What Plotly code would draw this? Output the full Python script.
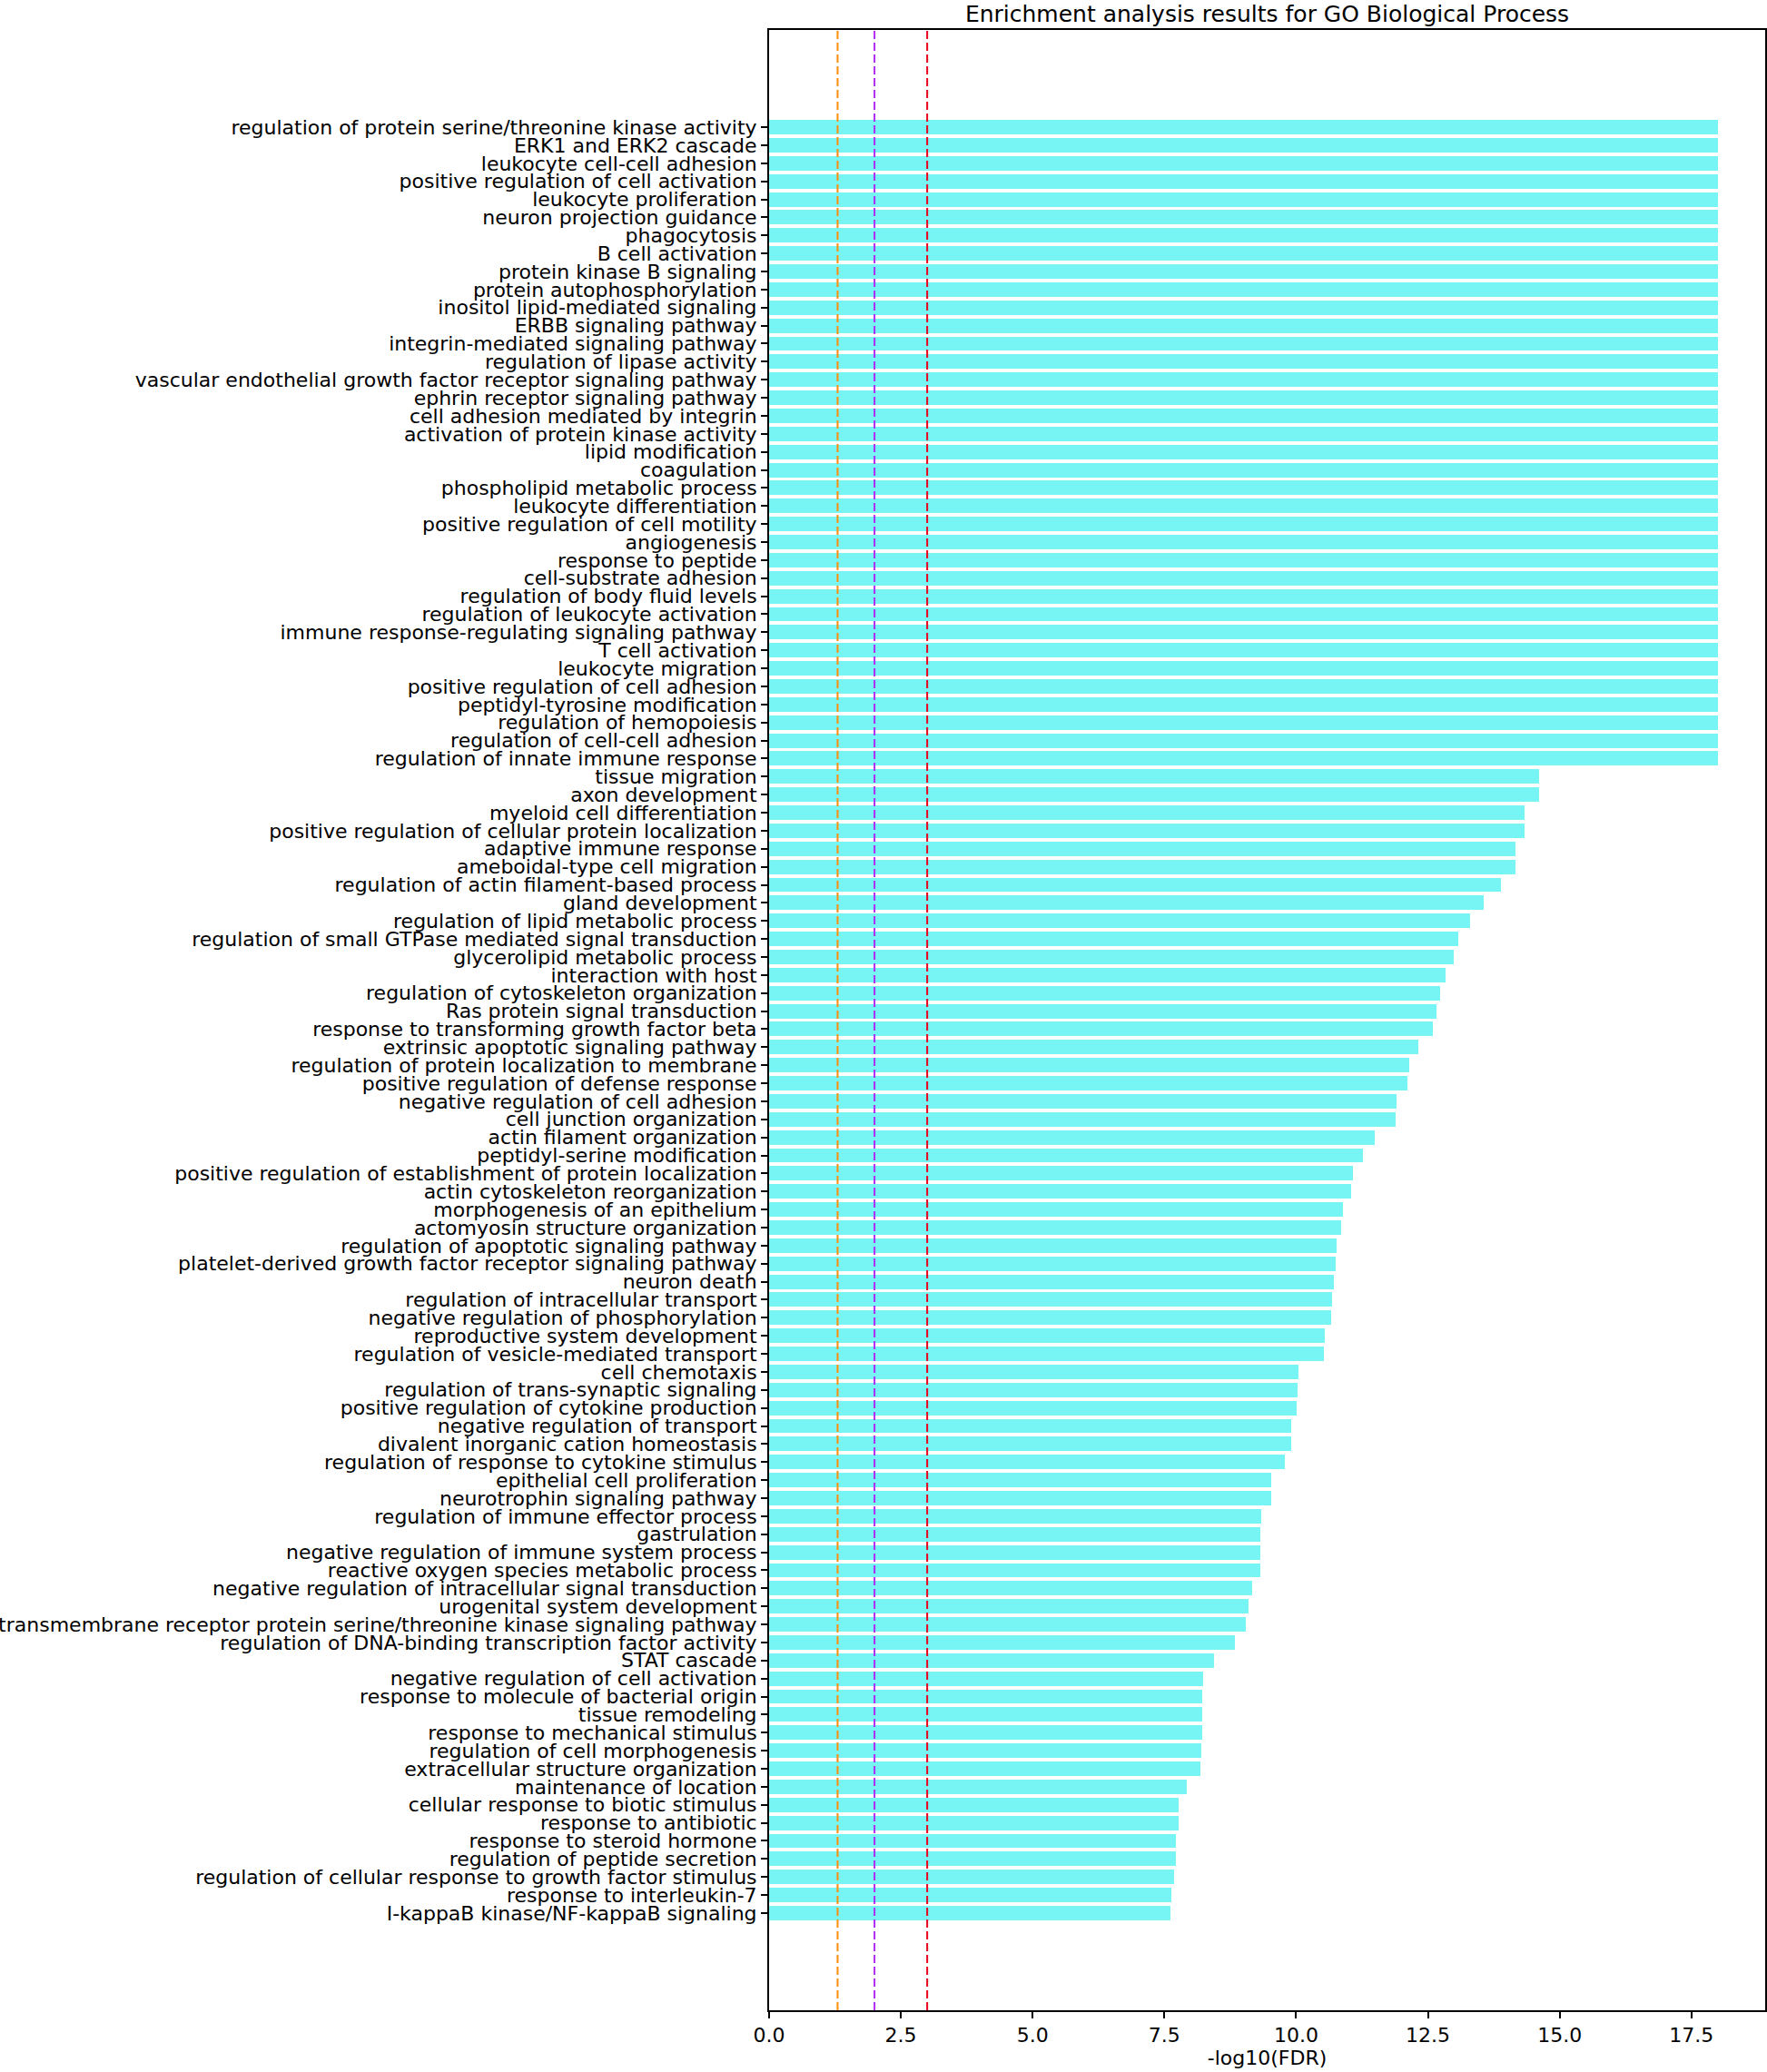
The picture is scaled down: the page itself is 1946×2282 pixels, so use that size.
import plotly.graph_objects as go

categories = [
    "regulation of protein serine/threonine kinase activity",
    "ERK1 and ERK2 cascade",
    "leukocyte cell-cell adhesion",
    "positive regulation of cell activation",
    "leukocyte proliferation",
    "neuron projection guidance",
    "phagocytosis",
    "B cell activation",
    "protein kinase B signaling",
    "protein autophosphorylation",
    "inositol lipid-mediated signaling",
    "ERBB signaling pathway",
    "integrin-mediated signaling pathway",
    "regulation of lipase activity",
    "vascular endothelial growth factor receptor signaling pathway",
    "ephrin receptor signaling pathway",
    "cell adhesion mediated by integrin",
    "activation of protein kinase activity",
    "lipid modification",
    "coagulation",
    "phospholipid metabolic process",
    "leukocyte differentiation",
    "positive regulation of cell motility",
    "angiogenesis",
    "response to peptide",
    "cell-substrate adhesion",
    "regulation of body fluid levels",
    "regulation of leukocyte activation",
    "immune response-regulating signaling pathway",
    "T cell activation",
    "leukocyte migration",
    "positive regulation of cell adhesion",
    "peptidyl-tyrosine modification",
    "regulation of hemopoiesis",
    "regulation of cell-cell adhesion",
    "regulation of innate immune response",
    "tissue migration",
    "axon development",
    "myeloid cell differentiation",
    "positive regulation of cellular protein localization",
    "adaptive immune response",
    "ameboidal-type cell migration",
    "regulation of actin filament-based process",
    "gland development",
    "regulation of lipid metabolic process",
    "regulation of small GTPase mediated signal transduction",
    "glycerolipid metabolic process",
    "interaction with host",
    "regulation of cytoskeleton organization",
    "Ras protein signal transduction",
    "response to transforming growth factor beta",
    "extrinsic apoptotic signaling pathway",
    "regulation of protein localization to membrane",
    "positive regulation of defense response",
    "negative regulation of cell adhesion",
    "cell junction organization",
    "actin filament organization",
    "peptidyl-serine modification",
    "positive regulation of establishment of protein localization",
    "actin cytoskeleton reorganization",
    "morphogenesis of an epithelium",
    "actomyosin structure organization",
    "regulation of apoptotic signaling pathway",
    "platelet-derived growth factor receptor signaling pathway",
    "neuron death",
    "regulation of intracellular transport",
    "negative regulation of phosphorylation",
    "reproductive system development",
    "regulation of vesicle-mediated transport",
    "cell chemotaxis",
    "regulation of trans-synaptic signaling",
    "positive regulation of cytokine production",
    "negative regulation of transport",
    "divalent inorganic cation homeostasis",
    "regulation of response to cytokine stimulus",
    "epithelial cell proliferation",
    "neurotrophin signaling pathway",
    "regulation of immune effector process",
    "gastrulation",
    "negative regulation of immune system process",
    "reactive oxygen species metabolic process",
    "negative regulation of intracellular signal transduction",
    "urogenital system development",
    "transmembrane receptor protein serine/threonine kinase signaling pathway",
    "regulation of DNA-binding transcription factor activity",
    "STAT cascade",
    "negative regulation of cell activation",
    "response to molecule of bacterial origin",
    "tissue remodeling",
    "response to mechanical stimulus",
    "regulation of cell morphogenesis",
    "extracellular structure organization",
    "maintenance of location",
    "cellular response to biotic stimulus",
    "response to antibiotic",
    "response to steroid hormone",
    "regulation of peptide secretion",
    "regulation of cellular response to growth factor stimulus",
    "response to interleukin-7",
    "I-kappaB kinase/NF-kappaB signaling",
]

neg_log10_fdr = [
    18.0, 18.0, 18.0, 18.0, 18.0, 18.0, 18.0, 18.0, 18.0, 18.0,
    18.0, 18.0, 18.0, 18.0, 18.0, 18.0, 18.0, 18.0, 18.0, 18.0,
    18.0, 18.0, 18.0, 18.0, 18.0, 18.0, 18.0, 18.0, 18.0, 18.0,
    18.0, 18.0, 18.0, 18.0, 18.0, 18.0,
    14.61, 14.61, 14.33, 14.33, 14.17, 14.17, 13.88, 13.56, 13.30, 13.08,
    12.99, 12.83, 12.74, 12.67, 12.59, 12.32, 12.14, 12.12, 11.91, 11.89,
    11.49, 11.26, 11.08, 11.05, 10.89, 10.85, 10.77, 10.75, 10.71, 10.68,
    10.67, 10.55, 10.53, 10.04, 10.03, 10.01, 9.90, 9.90, 9.78, 9.53,
    9.52, 9.33, 9.32, 9.32, 9.32, 9.17, 9.09, 9.05, 8.84, 8.45,
    8.23, 8.21, 8.21, 8.21, 8.20, 8.19, 7.93, 7.77, 7.77, 7.72,
    7.71, 7.68, 7.64, 7.61,
]

threshold_values = [1.3, 2.0, 3.0]
threshold_colors = ["#FF8C0A", "#B02CF5", "#E8001C"]

x_tick_values = [0.0, 2.5, 5.0, 7.5, 10.0, 12.5, 15.0, 17.5]
x_tick_labels = ["0.0", "2.5", "5.0", "7.5", "10.0", "12.5", "15.0", "17.5"]

title_text = "Enrichment analysis results for GO Biological Process"
x_title = "-log10(FDR)"

FONT = "DejaVu Sans"
LABEL_SIZE = 22

fig = go.Figure()
fig.add_trace(go.Bar(
    x=neg_log10_fdr,
    y=categories,
    orientation="h",
    width=0.8,
    marker=dict(color="#77F5F4", line=dict(width=0)),
    hoverinfo="x+y",
))

for xv, col in zip(threshold_values, threshold_colors):
    fig.add_shape(
        type="line", xref="x", yref="paper",
        x0=xv, x1=xv, y0=0, y1=1,
        line=dict(color=col, width=2, dash="9px,4px"),
        layer="above",
    )

n = len(categories)
fig.update_layout(
    width=1946,
    height=2282,
    margin=dict(l=847, r=2, t=33, b=68, autoexpand=False),
    paper_bgcolor="white",
    plot_bgcolor="white",
    showlegend=False,
    bargap=0,
    font=dict(family=FONT, size=LABEL_SIZE, color="black"),
    title=dict(
        text=title_text,
        x=0.5, xref="paper", xanchor="center",
        y=1 - 15.5 / 2282, yref="container", yanchor="middle",
        font=dict(family=FONT, size=25, color="black"),
    ),
    xaxis=dict(
        range=[0, 18.9],
        tickmode="array",
        tickvals=x_tick_values,
        ticktext=x_tick_labels,
        ticks="outside", ticklen=7, tickwidth=1.5, tickcolor="black",
        showgrid=False, zeroline=False,
        showline=True, linecolor="black", linewidth=2, mirror=True,
        tickfont=dict(family=FONT, size=LABEL_SIZE, color="black"),
        title=dict(text=x_title, standoff=2,
                   font=dict(family=FONT, size=LABEL_SIZE, color="black")),
        automargin=False,
    ),
    yaxis=dict(
        type="category",
        categoryorder="array",
        categoryarray=categories,
        tickmode="linear", tick0=0, dtick=1,
        range=[n - 1 + 5.39, -5.39],
        ticks="outside", ticklen=7, tickwidth=1.5, tickcolor="black",
        showgrid=False, zeroline=False,
        showline=True, linecolor="black", linewidth=2, mirror=True,
        tickfont=dict(family=FONT, size=LABEL_SIZE, color="black"),
        automargin=False,
    ),
)

fig.write_html(
    "out.html",
    config={"displayModeBar": False},
    post_script="document.body.style.margin='0';",
)
